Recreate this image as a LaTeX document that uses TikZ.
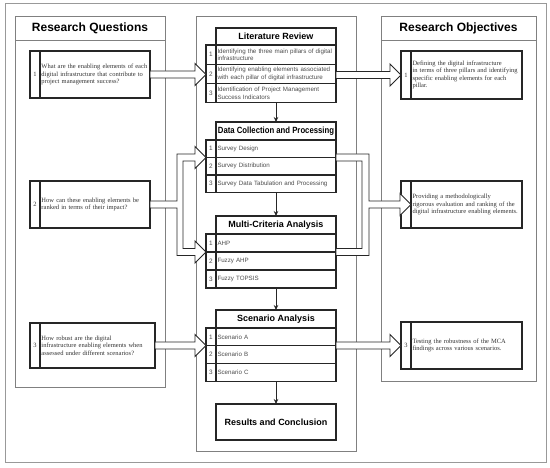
\documentclass[tikz,border=0pt]{standalone}
\usepackage{fontspec}
\setmainfont{Liberation Serif}
\setsansfont{Liberation Sans}
\usetikzlibrary{positioning,arrows.meta,calc}
\hyphenpenalty=10000
\exhyphenpenalty=10000
\tikzset{
  frame/.style={draw=black!40, line width=1pt},
  panel/.style={draw=black!50, line width=0.9pt, anchor=north west, outer sep=0pt, inner sep=0pt},
  paneltitle/.style={panel, font=\sffamily\bfseries\fontsize{12}{14}\selectfont},
  qbox/.style={draw=black!85, line width=1.1pt, anchor=north west, outer sep=0pt, inner sep=1.5pt,
    align=left, font=\fontsize{6.5}{7.6}\selectfont, text=black!80},
  qnum/.style={draw=black!85, line width=1.1pt, anchor=north west, outer sep=0pt, inner sep=0pt,
    minimum width=10pt, font=\fontsize{6.5}{7.6}\selectfont, text=black!80},
  stitle/.style={draw=black!85, line width=1.1pt, anchor=north west, outer sep=0pt, inner sep=1pt,
    minimum width=120pt, font=\sffamily\bfseries\fontsize{9}{10}\selectfont},
  sitem/.style={draw=black!85, line width=1.1pt, anchor=north west, outer sep=0pt, inner sep=1.5pt,
    text width=117pt, align=left, font=\sffamily\fontsize{6.2}{7.2}\selectfont, text=black!70},
  snum/.style={draw=black!85, line width=1.1pt, anchor=north east, outer sep=0pt, inner sep=0pt,
    minimum width=10pt, font=\sffamily\fontsize{6.4}{7.4}\selectfont, text=black!70},
  flowarrow/.style={-{Stealth[length=5pt,width=4.5pt]}, line width=0.8pt, draw=black!85},
  blockarrow/.style={draw=black!85, line width=0.9pt, fill=white},
}
% hollow block arrow: shaft at the height of #1, tip at the x of #2
\newcommand{\blockarrow}[2]{%
  \draw[blockarrow] let \p1=(#1), \p2=(#2) in
    (\x1,\y1+3.5pt) -- (\x2-11pt,\y1+3.5pt) -- (\x2-11pt,\y1+11pt) -- (\x2,\y1)
    -- (\x2-11pt,\y1-11pt) -- (\x2-11pt,\y1-3.5pt) -- (\x1,\y1-3.5pt) -- cycle;}

\begin{document}
\begin{tikzpicture}[x=1pt,y=-1pt]
\useasboundingbox (0,0) rectangle (550,468);
\draw[frame] (5,4) rectangle (546,463);
% three columns
\node[panel, minimum width=150pt, minimum height=371pt] (rqpanel) at (15,16) {};
\node[paneltitle, minimum width=150pt, minimum height=24pt] (rqhead) at (15,16) {Research Questions};
\node[panel, minimum width=160pt, minimum height=435pt] (stagepanel) at (196,16) {};
\node[panel, minimum width=155pt, minimum height=365pt] (ropanel) at (381,16) {};
\node[paneltitle, minimum width=155pt, minimum height=24pt] (rohead) at (381,16) {Research Objectives};
% research questions
\node[qnum, minimum height=47pt] (rqn1) at (30,51) {1};
\node[qbox, text width=107pt, minimum height=47pt] (rq1) at (rqn1.north east)
  {What are the enabling elements of each\\digital infrastructure that contribute to\\project management success?};
\node[qnum, minimum height=47pt] (rqn2) at (30,181) {2};
\node[qbox, text width=107pt, minimum height=47pt] (rq2) at (rqn2.north east)
  {How can these enabling elements be\\ranked in terms of their impact?};
\node[qnum, minimum height=45pt] (rqn3) at (30,323) {3};
\node[qbox, text width=112pt, minimum height=45pt] (rq3) at (rqn3.north east)
  {How robust are the digital\\infrastructure enabling elements when\\assessed under different scenarios?};
% research objectives
\node[qnum, minimum height=48pt] (ron1) at (401,51) {1};
\node[qbox, text width=108pt, minimum height=48pt] (ro1) at (ron1.north east)
  {Defining the digital infrastructure\\in terms of three pillars and identifying\\specific enabling elements for each\\pillar.};
\node[qnum, minimum height=47pt] (ron2) at (401,181) {2};
\node[qbox, text width=108pt, minimum height=47pt] (ro2) at (ron2.north east)
  {Providing a methodologically\\rigorous evaluation and ranking of the\\digital infrastructure enabling elements.};
\node[qnum, minimum height=47pt] (ron3) at (401,322) {3};
\node[qbox, text width=108pt, minimum height=47pt] (ro3) at (ron3.north east)
  {Testing the robustness of the MCA\\findings across various scenarios.};
% literature review
\node[stitle, minimum height=17pt] (lrt) at (216,28) {Literature Review};
\node[sitem, minimum height=19.3pt] (lr1) at (lrt.south west)
  {Identifying the three main pillars of digital\\infrastructure};
\node[sitem, minimum height=19.3pt] (lr2) at (lr1.south west)
  {Identifying enabling elements associated\\with each pillar of digital infrastructure};
\node[sitem, minimum height=19.3pt] (lr3) at (lr2.south west)
  {Identification of Project Management\\Success Indicators};
\foreach \n in {1,2,3}
  \node[snum, minimum height=19.3pt] (lrn\n) at (lr\n.north west) {\n};
% data collection and processing
\node[stitle, minimum height=18pt] (dcpt) at (216,122) {\scalebox{0.86}[1]{Data Collection and Processing}};
\foreach \n/\txt in {1/Survey Design,2/Survey Distribution,3/Survey Data Tabulation and Processing}{
  \node[sitem, minimum height=17.5pt] (dcp\n) at (216,{140+17.5*(\n-1)}) {\txt};
  \node[snum, minimum height=17.5pt] (dcpn\n) at (dcp\n.north west) {\n};
}
% multi-criteria analysis
\node[stitle, minimum height=18pt] (mcat) at (216,216) {Multi-Criteria Analysis};
\foreach \n/\txt in {1/AHP,2/Fuzzy AHP,3/Fuzzy TOPSIS}{
  \node[sitem, minimum height=18pt] (mca\n) at (216,{234+18*(\n-1)}) {\txt};
  \node[snum, minimum height=18pt] (mcan\n) at (mca\n.north west) {\n};
}
% scenario analysis
\node[stitle, minimum height=18pt] (sat) at (216,310) {Scenario Analysis};
\foreach \n/\txt in {1/Scenario A,2/Scenario B,3/Scenario C}{
  \node[sitem, minimum height=17.7pt] (sa\n) at (216,{328+17.7*(\n-1)}) {\txt};
  \node[snum, minimum height=17.7pt] (san\n) at (sa\n.north west) {\n};
}
\node[stitle, minimum height=36pt] (res) at (216,404) {Results and Conclusion};
% flow between stages
\draw[flowarrow] (lr3.south) -- (dcpt.north);
\draw[flowarrow] (dcp3.south) -- (mcat.north);
\draw[flowarrow] (mca3.south) -- (sat.north);
\draw[flowarrow] (sa3.south) -- (res.north);
% hollow arrows
\blockarrow{rq1.east}{lrn2.west}
\blockarrow{lr2.east |- ro1.west}{ron1.west}
\blockarrow{rq3.east}{san1.west}
\blockarrow{sa1.east |- ro3.west}{ron3.west}
% question 2 splits into two stages
\draw[blockarrow] let \p1=(rq2.east), \p2=(dcpn1.south west), \p3=(mcan1.south west) in
  (\x1,\y1+3.5pt) -- (\x2-29pt,\y1+3.5pt) -- (\x2-29pt,\y2+3.5pt) -- (\x2-11pt,\y2+3.5pt)
  -- (\x2-11pt,\y2+11pt) -- (\x2,\y2) -- (\x2-11pt,\y2-11pt) -- (\x2-11pt,\y2-3.5pt)
  -- (\x2-23pt,\y2-3.5pt) -- (\x2-23pt,\y3+3.5pt) -- (\x3-11pt,\y3+3.5pt) -- (\x3-11pt,\y3+11pt)
  -- (\x3,\y3) -- (\x3-11pt,\y3-11pt) -- (\x3-11pt,\y3-3.5pt) -- (\x2-29pt,\y3-3.5pt)
  -- (\x2-29pt,\y1-3.5pt) -- (\x1,\y1-3.5pt) -- cycle;
% two stages join into objective 2
\draw[blockarrow] let \p1=(dcp1.south east), \p2=(mca1.south east), \p3=(ro2.west) in
  (\x1,\y1+3.5pt) -- (\x1+33pt,\y1+3.5pt) -- (\x1+33pt,\y3+3.5pt) -- (\x3-11pt,\y3+3.5pt)
  -- (\x3-11pt,\y3+11pt) -- (\x3,\y3) -- (\x3-11pt,\y3-11pt) -- (\x3-11pt,\y3-3.5pt)
  -- (\x1+33pt,\y3-3.5pt) -- (\x1+33pt,\y2-3.5pt) -- (\x2,\y2-3.5pt) -- (\x2,\y2+3.5pt)
  -- (\x1+26pt,\y2+3.5pt) -- (\x1+26pt,\y1-3.5pt) -- (\x1,\y1-3.5pt) -- cycle;
\end{tikzpicture}
\end{document}
